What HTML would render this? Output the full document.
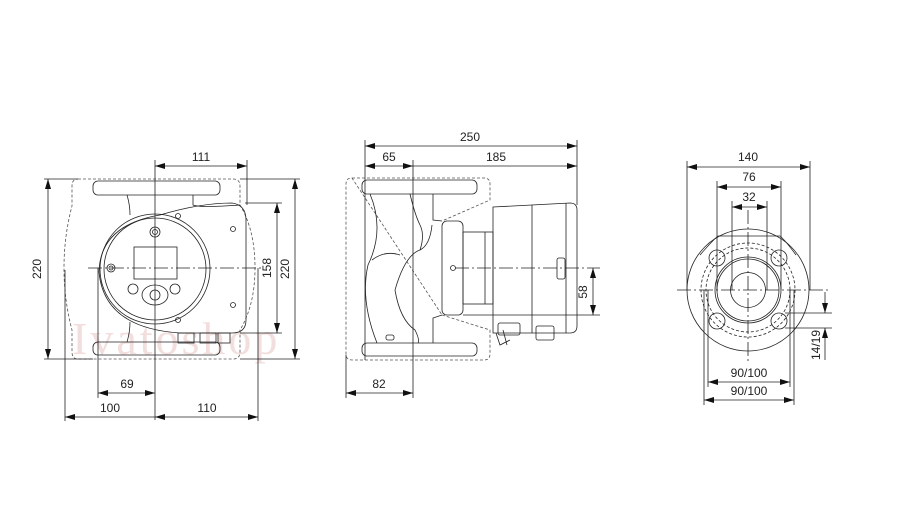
<!DOCTYPE html>
<html><head><meta charset="utf-8"><style>
html,body{margin:0;padding:0;background:#fff;}
svg{display:block}
text{font-family:"Liberation Sans",sans-serif;font-size:12px;fill:#222}
</style></head><body>
<svg width="900" height="532" viewBox="0 0 900 532" xmlns="http://www.w3.org/2000/svg">
<defs>
<marker id="a" viewBox="0 0 10 6" refX="10" refY="3" markerWidth="10" markerHeight="6" orient="auto-start-reverse" markerUnits="userSpaceOnUse"><path d="M0,0 L10,3 L0,6 Z" fill="#111"/></marker>
</defs>
<!-- watermark -->
<text x="72" y="354" style="font-family:'Liberation Serif',serif;font-size:46px;letter-spacing:3px;fill:#f0d6d6;fill-opacity:0.8">Ivatoshop</text>
<g stroke="#222" stroke-width="0.8" fill="none">
<!-- ===== VIEW 1 ===== -->
<path d="M78,179 L233,179 Q240,179 240,186 L240,205 Q255,230 255,268 Q255,305 240,330 L240,352 Q240,359 233,359 L78,359 Q72,359 72,352 L72,330 Q64,300 64,268 Q64,236 72,206 L72,186 Q72,179 78,179 Z" stroke="#555" stroke-dasharray="3,2"/>
<rect x="93" y="181" width="127" height="14" rx="5"/>
<rect x="93" y="342" width="127" height="13" rx="5"/>
<path d="M127,195 Q130,205 130,215 M193,195 L193,205 Q200,208 240,205 M127,342 Q130,332 130,322"/>
<path d="M160,215 Q200,203 232,203 Q246,205 246,220 L246,320 Q246,333 232,333 L180,333 Q104,328 99,272 Q100,225 160,215 Z"/>
<circle cx="155" cy="269" r="55"/>
<circle cx="155" cy="269" r="51"/>
<rect x="134" y="247" width="43" height="32"/>
<circle cx="155" cy="232" r="5"/><circle cx="155" cy="232" r="2.5"/>
<circle cx="111" cy="268" r="4"/><circle cx="111" cy="268" r="2"/>
<ellipse cx="155" cy="295" rx="13" ry="10"/><circle cx="155" cy="295" r="5"/>
<circle cx="133" cy="289" r="5"/><circle cx="175" cy="289" r="5"/>
<circle cx="178" cy="216" r="2.5"/><circle cx="233" cy="229" r="2.5"/><circle cx="233" cy="305" r="2.5"/><circle cx="178" cy="320" r="2.5"/>
<rect x="178" y="333" width="16" height="10"/><rect x="200" y="333" width="16" height="10"/><rect x="218" y="333" width="12" height="10"/>
<path d="M88,268 L262,268" stroke-dasharray="14,3,2,3"/>
<path d="M155,160 L155,420"/>
<path d="M155,166 L247,166" marker-start="url(#a)" marker-end="url(#a)"/>
<path d="M247,160 L247,205"/>
<path d="M48,179 L48,359" marker-start="url(#a)" marker-end="url(#a)"/>
<path d="M44,179 L78,179 M44,359 L93,359"/>
<path d="M277,203 L277,333" marker-start="url(#a)" marker-end="url(#a)"/>
<path d="M245,203 L282,203 M240,333 L282,333"/>
<path d="M295,179 L295,359" marker-start="url(#a)" marker-end="url(#a)"/>
<path d="M240,179 L300,179 M240,359 L300,359"/>
<path d="M98,393 L155,393" marker-start="url(#a)" marker-end="url(#a)"/>
<path d="M98,268 L98,398"/>
<path d="M65,417 L155,417" marker-start="url(#a)"/>
<path d="M155,417 L258,417" marker-start="url(#a)" marker-end="url(#a)"/>
<path d="M65,270 L65,421 M258,268 L258,421"/>

<!-- ===== VIEW 2 ===== -->
<path d="M352,178 L484,178 Q490,178 490,184 L490,200 L442,221 M442,315 L490,330 L490,354 Q490,360 484,360 L352,360 Q346,360 346,354 L346,184 Q346,178 352,178 Z" stroke="#555" stroke-dasharray="3,2"/>
<rect x="362" y="180" width="115" height="14" rx="5"/>
<rect x="362" y="343" width="115" height="13" rx="5"/>
<path d="M370,194 Q385,230 368,265 Q360,300 377,343 M410,194 Q415,215 420,225 Q425,235 420,250 M433,194 L433,220 L442,221 M433,343 L433,318 L442,315"/>
<path d="M395,290 Q405,255 420,250 Q430,245 432,225 M395,290 Q400,320 415,330 Q420,340 418,343 M372,260 Q385,250 400,255"/>
<rect x="386" y="335" width="8" height="5" rx="2"/>
<rect x="442" y="221" width="21" height="94" rx="5"/>
<rect x="463" y="232" width="30" height="72"/>
<path d="M485,232 L485,304"/>
<path d="M493,207 L570,203 Q577,203 577,210 L577,326 Q577,333 570,333 L493,333 Z"/>
<path d="M532,205 L532,333 M566,203 L566,333"/>
<rect x="557" y="258" width="8" height="21" rx="2"/>
<circle cx="453" cy="268" r="2.5"/>
<rect x="498" y="323" width="22" height="12" rx="2"/><rect x="536" y="326" width="18" height="14" rx="2"/>
<path d="M496,333 L500,345 L510,340 M503,330 L507,345"/>
<path d="M455,268 L600,268" stroke-dasharray="14,3,2,3"/>
<path d="M365,146 L577,146" marker-start="url(#a)" marker-end="url(#a)"/>
<path d="M365,140 L365,360 M577,140 L577,205"/>
<path d="M365,166 L413,166" marker-start="url(#a)" marker-end="url(#a)"/>
<path d="M413,166 L577,166" marker-end="url(#a)"/>
<path d="M413,160 L413,398"/>
<path d="M346,393 L413,393" marker-start="url(#a)" marker-end="url(#a)"/>
<path d="M346,355 L346,398"/>
<path d="M593,268 L593,315" marker-start="url(#a)" marker-end="url(#a)"/>
<path d="M463,315 L600,315"/>

<!-- ===== VIEW 3 ===== -->
<path d="M718,236 L780,236 M718,236 Q713,240 700,255 M780,236 Q785,240 796,255"/>
<circle cx="748" cy="290" r="61"/>
<circle cx="748" cy="290" r="42" stroke-dasharray="3,2"/>
<circle cx="748" cy="290" r="47" stroke-dasharray="3,2"/>
<circle cx="748" cy="290" r="33"/>
<circle cx="748" cy="290" r="31"/>
<circle cx="748" cy="290" r="17.5"/>
<circle cx="717" cy="258" r="8"/><circle cx="779" cy="258" r="8"/><circle cx="717" cy="321" r="8"/><circle cx="779" cy="321" r="8"/>
<path d="M677,290 L830,290" stroke-dasharray="14,3,2,3"/>
<path d="M748,210 L748,362" stroke-dasharray="14,3,2,3"/>
<path d="M687,167 L810,167" marker-start="url(#a)" marker-end="url(#a)"/>
<path d="M687,161 L687,290 M810,161 L810,290"/>
<path d="M717,187 L781,187" marker-start="url(#a)" marker-end="url(#a)"/>
<path d="M717,181 L717,290 M781,181 L781,290"/>
<path d="M732,207 L767,207" marker-start="url(#a)" marker-end="url(#a)"/>
<path d="M732,201 L732,290 M767,201 L767,290"/>
<path d="M708,382 L790,382" marker-start="url(#a)" marker-end="url(#a)"/>
<path d="M704,400 L794,400" marker-start="url(#a)" marker-end="url(#a)"/>
<path d="M704,290 L704,405 M708,290 L708,387 M790,290 L790,387 M794,290 L794,405"/>
<path d="M825,292 L825,313" marker-end="url(#a)"/>
<path d="M825,328 L825,360" marker-start="url(#a)"/>
<path d="M785,313 L832,313 M785,328 L832,328"/>
</g>
<g text-anchor="middle">
<text x="201" y="161">111</text>
<text x="127" y="388">69</text>
<text x="110" y="412">100</text>
<text x="207" y="412">110</text>
<text transform="translate(41,269) rotate(-90)">220</text>
<text transform="translate(271,268) rotate(-90)">158</text>
<text transform="translate(289,269) rotate(-90)">220</text>
<text x="470" y="141">250</text>
<text x="389" y="161">65</text>
<text x="496" y="161">185</text>
<text x="379" y="388">82</text>
<text transform="translate(587,292) rotate(-90)">58</text>
<text x="748" y="161">140</text>
<text x="749" y="181">76</text>
<text x="749" y="201">32</text>
<text x="749" y="377">90/100</text>
<text x="749" y="395">90/100</text>
<text transform="translate(820,345) rotate(-90)">14/19</text>
</g>
</svg>
</body></html>
